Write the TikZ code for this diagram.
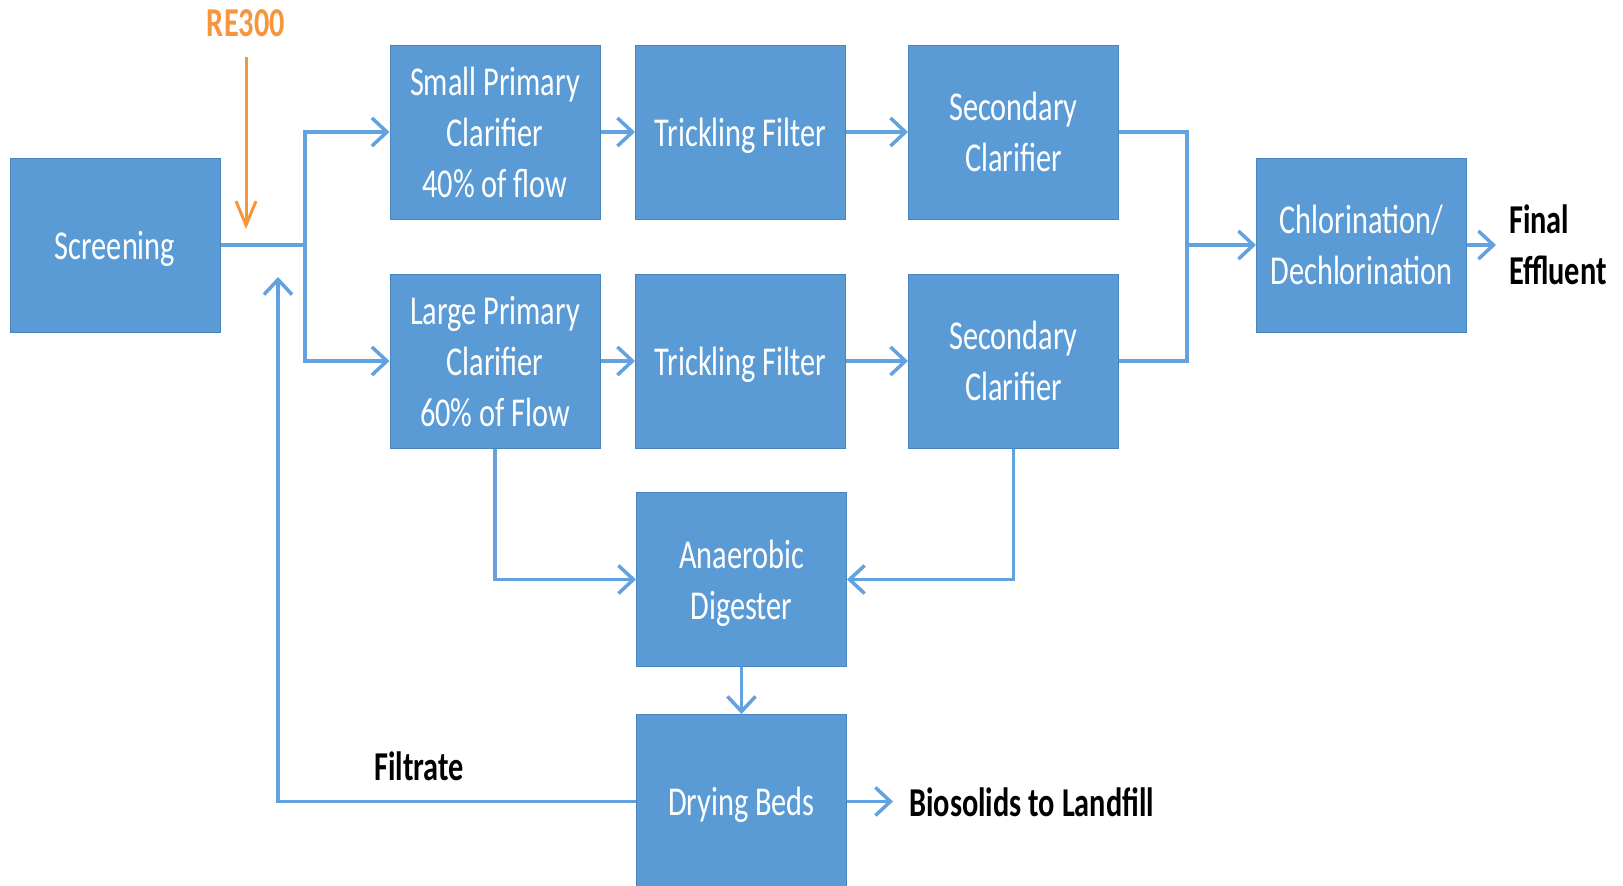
\documentclass[tikz,border=0pt]{standalone}
\usepackage{fontspec}
\setmainfont{Carlito}[FakeStretch=0.74]
\usetikzlibrary{arrows.meta}
\definecolor{boxblue}{HTML}{5B9BD5}
\definecolor{boxedge}{HTML}{4A84BF}
\definecolor{lineblue}{HTML}{62A2DE}
\definecolor{orng}{HTML}{F7953A}
\tikzset{
  box/.style={rectangle, fill=boxblue, draw=boxedge, line width=1pt,
    minimum width=210pt, minimum height=174pt, inner sep=0pt, text depth=0pt,
    text=white, align=center, font=\fontsize{41}{51}\selectfont},
  conn/.style={draw=lineblue, line width=3.5pt},
  flow/.style={conn, -{Straight Barb[length=15pt,width=28pt,line width=3.5pt]}},
  lbl/.style={text=black, inner sep=0pt, font=\fontsize{41}{51}\selectfont\bfseries},
  orarrow/.style={draw=orng, line width=3pt, -{Straight Barb[length=24pt,width=20pt,line width=3pt]}}
}
\begin{document}
\begin{tikzpicture}[x=1pt,y=-1pt]
\useasboundingbox (0,0) rectangle (1623,886);
\fill[white] (0,0) rectangle (1623,886);
% boxes
\node[box] (scr) at (115,245) {Screening};
\node[box] (spc) at (495,132) {Small Primary\\Clarifier\\40\% of flow};
\node[box] (tf1) at (740.5,132) {Trickling Filter};
\node[box] (sc1) at (1013.5,132) {Secondary\\Clarifier};
\node[box] (lpc) at (495,361) {Large Primary\\Clarifier\\60\% of Flow};
\node[box] (tf2) at (740.5,361) {Trickling Filter};
\node[box] (sc2) at (1013.5,361) {Secondary\\Clarifier};
\node[box] (chl) at (1361.5,245) {Chlorination/\\Dechlorination};
\node[box] (dig) at (741.5,579.5) {Anaerobic\\Digester};
\node[box] (dry) at (741.5,801.5) {Drying Beds};
% labels
\node[lbl, text=orng] (re) at (246,23) {RE300};
\node[lbl, anchor=west, align=left] (fe) at (1509,245) {Final\\Effluent};
\node[lbl] (filt) at (419,766) {Filtrate};
\node[lbl, anchor=west] (bio) at (909,802) {Biosolids to Landfill};
% coordinates
\coordinate (reA) at (246,57);
\coordinate (reB) at (246,229);
\coordinate (j1) at (305,245);
\coordinate (j2) at (1187,245);
\coordinate (feA) at (1496,245);
\coordinate (bioA) at (893,801.5);
\coordinate (fil) at (278,277);
% connectors
\draw[conn] (scr.east) -- (j1);
\draw[flow] (j1) |- (spc.west);
\draw[flow] (j1) |- (lpc.west);
\draw[flow] (spc.east) -- (tf1.west);
\draw[flow] (tf1.east) -- (sc1.west);
\draw[flow] (lpc.east) -- (tf2.west);
\draw[flow] (tf2.east) -- (sc2.west);
\draw[conn] (sc1.east) -| (j2);
\draw[conn] (sc2.east) -| (j2);
\draw[flow] (j2) -- (chl.west);
\draw[flow] (chl.east) -- (feA);
\draw[flow] (lpc.south) |- (dig.west);
\draw[flow] (sc2.south) |- (dig.east);
\draw[flow] (dig.south) -- (dry.north);
\draw[flow] (dry.east) -- (bioA);
\draw[flow] (dry.west) -| (fil);
\draw[orarrow] (reA) -- (reB);
\end{tikzpicture}
\end{document}
